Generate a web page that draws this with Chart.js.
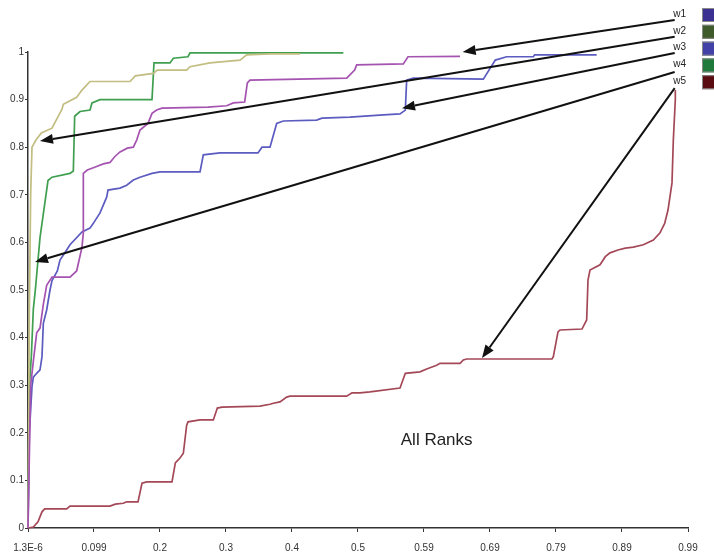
<!DOCTYPE html>
<html>
<head>
<meta charset="utf-8">
<script src="https://cdn.jsdelivr.net/npm/chart.js@4/dist/chart.umd.min.js"></script>
<style>
  html, body { margin: 0; padding: 0; background: #fff; }
  #wrap { width: 714px; height: 558px; }
</style>
</head>
<body>
<div id="wrap"><canvas id="rankChart"></canvas></div>
<script>
// axis ticks
const xTickVals = [0.0000013, 0.099, 0.198, 0.297, 0.396, 0.495, 0.594, 0.693, 0.792, 0.891, 0.99];
const xTickLabels = ['1.3E-6', '0.099', '0.2', '0.3', '0.4', '0.5', '0.59', '0.69', '0.79', '0.89', '0.99'];
const yTickVals = [0, 0.1, 0.2, 0.3, 0.4, 0.5, 0.6, 0.7, 0.8, 0.9, 1];
const yTickLabels = ['0', '0.1', '0.2', '0.3', '0.4', '0.5', '0.6', '0.7', '0.8', '0.9', '1'];

const seriesNames = ['w1', 'w2', 'w3', 'w4', 'w5'];

// [x, y] points
const w1Pts = [[0,0],[0.004,0.3],[0.008,0.35],[0.013,0.41],[0.018,0.42],[0.023,0.47],[0.028,0.51],[0.036,0.527],
  [0.063,0.527],[0.073,0.54],[0.081,0.59],[0.083,0.62],[0.083,0.745],[0.089,0.752],[0.1,0.758],[0.113,0.765],
  [0.123,0.768],[0.13,0.78],[0.138,0.79],[0.149,0.798],[0.158,0.8],[0.163,0.815],[0.168,0.836],[0.18,0.85],
  [0.186,0.871],[0.193,0.878],[0.201,0.882],[0.27,0.884],[0.298,0.887],[0.308,0.893],[0.325,0.895],[0.329,0.935],
  [0.333,0.941],[0.478,0.945],[0.49,0.962],[0.493,0.973],[0.563,0.975],[0.57,0.99],[0.648,0.991]];
const w2Pts = [[0,0],[0.002,0.45],[0.004,0.7],[0.006,0.8],[0.012,0.815],[0.02,0.83],[0.036,0.84],[0.051,0.88],
  [0.053,0.89],[0.073,0.905],[0.081,0.92],[0.093,0.938],[0.153,0.938],[0.161,0.95],[0.188,0.955],[0.194,0.962],
  [0.238,0.962],[0.243,0.969],[0.273,0.977],[0.318,0.983],[0.328,0.994],[0.363,0.996],[0.408,0.996]];
const w3Pts = [[0,0],[0.002,0.2],[0.006,0.297],[0.008,0.317],[0.013,0.325],[0.018,0.332],[0.021,0.36],[0.023,0.43],
  [0.028,0.458],[0.033,0.5],[0.036,0.52],[0.044,0.54],[0.048,0.563],[0.058,0.584],[0.063,0.595],[0.081,0.622],
  [0.093,0.63],[0.098,0.64],[0.108,0.662],[0.118,0.695],[0.12,0.71],[0.138,0.714],[0.148,0.72],[0.158,0.731],
  [0.168,0.737],[0.186,0.745],[0.198,0.748],[0.258,0.748],[0.263,0.784],[0.288,0.788],[0.345,0.788],[0.351,0.8],
  [0.363,0.8],[0.373,0.85],[0.383,0.855],[0.433,0.857],[0.441,0.861],[0.483,0.863],[0.533,0.868],[0.558,0.87],
  [0.566,0.878],[0.568,0.941],[0.578,0.945],[0.683,0.943],[0.701,0.983],[0.718,0.99],[0.758,0.99],[0.76,0.994],
  [0.853,0.994]];
const w4Pts = [[0,0],[0.002,0.3],[0.005,0.36],[0.008,0.46],[0.011,0.5],[0.018,0.61],[0.023,0.66],[0.03,0.73],
  [0.036,0.737],[0.063,0.745],[0.068,0.75],[0.07,0.865],[0.078,0.875],[0.093,0.878],[0.096,0.893],[0.108,0.9],
  [0.186,0.9],[0.189,0.977],[0.213,0.977],[0.218,0.987],[0.24,0.99],[0.243,0.998],[0.473,0.998]];
const w5Pts = [[0,0],[0.008,0.002],[0.015,0.013],[0.021,0.034],[0.025,0.04],[0.058,0.04],[0.063,0.046],[0.123,0.046],
  [0.131,0.05],[0.143,0.052],[0.148,0.055],[0.165,0.055],[0.171,0.094],[0.178,0.097],[0.216,0.097],[0.221,0.137],
  [0.228,0.147],[0.233,0.157],[0.238,0.216],[0.24,0.223],[0.258,0.227],[0.278,0.227],[0.284,0.252],[0.291,0.254],
  [0.348,0.256],[0.363,0.26],[0.368,0.262],[0.378,0.265],[0.388,0.275],[0.393,0.277],[0.478,0.277],[0.486,0.284],
  [0.498,0.284],[0.513,0.286],[0.558,0.294],[0.566,0.325],[0.588,0.328],[0.598,0.334],[0.613,0.342],[0.618,0.346],
  [0.648,0.346],[0.653,0.353],[0.658,0.355],[0.786,0.355],[0.788,0.36],[0.795,0.412],[0.798,0.416],[0.831,0.418],
  [0.838,0.437],[0.84,0.521],[0.843,0.542],[0.858,0.553],[0.866,0.57],[0.873,0.578],[0.885,0.584],[0.896,0.588],
  [0.908,0.59],[0.923,0.595],[0.938,0.605],[0.948,0.62],[0.955,0.64],[0.96,0.668],[0.966,0.725],[0.968,0.815],
  [0.971,0.9],[0.971,0.92]];

// arrows: [fromX, fromY, toX, toY] in data units
const arrows = [
  [0.970, 1.067, 0.652, 1.0],
  [0.970, 1.032, 0.018, 0.813],
  [0.970, 0.998, 0.561, 0.882],
  [0.970, 0.958, 0.0105, 0.559],
  [0.970, 0.924, 0.681, 0.357]
];
const noteText = 'All Ranks';
const notePos = [0.613, 0.185];

const lineColors = ['#a553b0', '#c2bd80', '#5b5bc0', '#3f9f4f', '#a44858'];
const boxColors = ['#3b3192', '#3f5a2b', '#4141a8', '#1f7a3b', '#5a0b12'];

const toXY = pts => pts.map(p => ({ x: p[0], y: p[1] }));
const allPts = [w1Pts, w2Pts, w3Pts, w4Pts, w5Pts];

const overlay = {
  id: 'overlay',
  afterDatasetsDraw(chart) {
    const { ctx, scales: { x, y } } = chart;
    ctx.save();
    // arrows
    ctx.strokeStyle = '#111';
    ctx.fillStyle = '#111';
    ctx.lineWidth = 2;
    arrows.forEach(a => {
      const x0 = x.getPixelForValue(a[0]), y0 = y.getPixelForValue(a[1]);
      const x1 = x.getPixelForValue(a[2]), y1 = y.getPixelForValue(a[3]);
      const ang = Math.atan2(y1 - y0, x1 - x0);
      const hl = 13, hw = 5;
      const bx = x1 - hl * Math.cos(ang), by = y1 - hl * Math.sin(ang);
      ctx.beginPath();
      ctx.moveTo(x0, y0);
      ctx.lineTo(bx, by);
      ctx.stroke();
      ctx.beginPath();
      ctx.moveTo(x1, y1);
      ctx.lineTo(bx + hw * Math.sin(ang), by - hw * Math.cos(ang));
      ctx.lineTo(bx - hw * Math.sin(ang), by + hw * Math.cos(ang));
      ctx.closePath();
      ctx.fill();
    });
    // legend at the top right
    ctx.font = '10px "Liberation Sans", Arial, sans-serif';
    ctx.textAlign = 'right';
    ctx.textBaseline = 'middle';
    seriesNames.forEach((n, i) => {
      const top = 8 + i * 16.8;
      ctx.fillStyle = '#222';
      ctx.fillText(n, chart.width - 28, top + 6);
      ctx.fillStyle = boxColors[i];
      ctx.fillRect(chart.width - 12, top, 14, 14);
      ctx.strokeStyle = '#888';
      ctx.lineWidth = 1;
      ctx.strokeRect(chart.width - 11.5, top + 0.5, 14, 13);
    });
    // note
    ctx.font = '17px "Liberation Sans", Arial, sans-serif';
    ctx.textAlign = 'center';
    ctx.fillStyle = '#222';
    ctx.fillText(noteText, x.getPixelForValue(notePos[0]), y.getPixelForValue(notePos[1]));
    ctx.restore();
  }
};

new Chart(document.getElementById('rankChart'), {
  type: 'line',
  data: {
    datasets: allPts.map((pts, i) => ({
      label: seriesNames[i],
      data: toXY(pts),
      borderColor: lineColors[i],
      borderWidth: 1.7,
      pointRadius: 0,
      tension: 0,
      fill: false,
      clip: false
    }))
  },
  options: {
    responsive: true,
    maintainAspectRatio: false,
    animation: false,
    layout: { padding: { top: 52, right: 26, left: 0, bottom: 0 } },
    plugins: {
      legend: { display: false },
      tooltip: { enabled: false }
    },
    scales: {
      x: {
        type: 'linear',
        min: 0.0000013,
        max: 0.99,
        afterBuildTicks: s => { s.ticks = xTickVals.map(v => ({ value: v })); },
        afterFit: s => { s.height = 30; },
        grid: { drawOnChartArea: false, color: '#333', tickLength: 4 },
        border: { color: '#333', width: 1.5 },
        ticks: {
          autoSkip: false,
          maxRotation: 0,
          padding: 10,
          color: '#333',
          font: { family: '"Liberation Sans", Arial, sans-serif', size: 10 },
          callback: (v, i) => xTickLabels[i]
        }
      },
      y: {
        min: 0,
        max: 1,
        afterBuildTicks: s => { s.ticks = yTickVals.map(v => ({ value: v })); },
        afterFit: s => { s.width = 28; },
        grid: { drawOnChartArea: false, color: '#333', tickLength: 3 },
        border: { color: '#333', width: 1.5 },
        ticks: {
          padding: 1,
          color: '#333',
          font: { family: '"Liberation Sans", Arial, sans-serif', size: 10 },
          callback: (v, i) => yTickLabels[i]
        }
      }
    }
  },
  plugins: [overlay]
});
</script>
</body>
</html>
